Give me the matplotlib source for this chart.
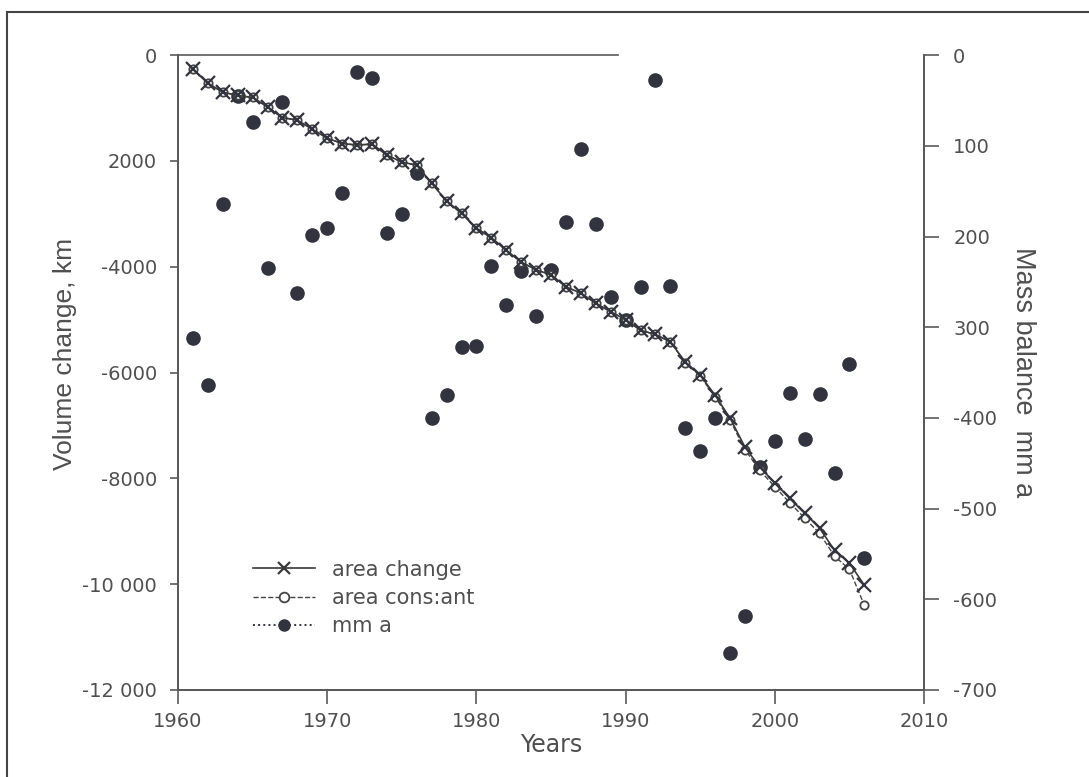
import matplotlib.pyplot as plt
from matplotlib.lines import Line2D
from matplotlib.patches import Rectangle

plt.rcParams['font.family'] = ['DejaVu Sans']

years = list(range(1961, 2007))

# cumulative volume change (left axis)
area_change = [-265, -530, -700, -760, -800, -980, -1180, -1230, -1400, -1570,
               -1670, -1700, -1680, -1890, -2020, -2080, -2420, -2760, -2990, -3270,
               -3450, -3690, -3910, -4060, -4150, -4380, -4500, -4690, -4850, -5000,
               -5200, -5280, -5420, -5800, -6050, -6430, -6860, -7410, -7790, -8090,
               -8380, -8660, -8940, -9360, -9600, -10020]
area_constant = [-265, -530, -700, -760, -800, -980, -1180, -1230, -1400, -1570,
                 -1670, -1700, -1680, -1890, -2020, -2080, -2420, -2760, -2990, -3270,
                 -3450, -3690, -3910, -4060, -4150, -4380, -4500, -4690, -4850, -5000,
                 -5200, -5280, -5420, -5810, -6070, -6460, -6900, -7460, -7850, -8160,
                 -8460, -8750, -9040, -9470, -9720, -10400]

# annual mass balance (right axis)
mm_a = [-312, -364, -164, -45, -74, -235, -52, -262, -198, -191,
        -152, -19, -25, -196, -175, -130, -400, -375, -322, -321,
        -232, -275, -238, -288, -237, -184, -104, -186, -267, -292,
        -256, -27, -254, -411, -437, -400, -659, -618, -454, -426,
        -372, -423, -374, -461, -341, -555]

left_ticks = [0, -2000, -4000, -6000, -8000, -10000, -12000]
left_labels = ["0", "2000", "-4000", "-6000", "-8000", "-10 000", "-12 000"]
right_ticks = [0, -100, -200, -300, -400, -500, -600, -700]
right_labels = ["0", "100", "200", "300", "-400", "-500", "-600", "-700"]
x_ticks = [1960, 1970, 1980, 1990, 2000, 2010]

ink = '#33333f'
axc = '#5a5a5a'
txt = '#4f4f4f'

fig = plt.figure(figsize=(10.89, 7.77), dpi=100)
ax = fig.add_axes([0.1635, 0.112, 0.685, 0.817])
ax2 = ax.twinx()

# mass balance dots
ax2.plot(years, mm_a, linestyle='none', marker='o', ms=9.5, color=ink, zorder=2)

ax.set_zorder(ax2.get_zorder() + 1)
ax.patch.set_visible(False)

ax.plot(years, area_constant, linestyle='--', lw=1, color='#444444',
        marker='o', ms=6, mfc='white', mec='#444444', mew=1.3)
ax.plot(years, area_change, linestyle='-', lw=1.2, color='#3a3a3a',
        marker='x', ms=10, mew=1.6, mec=ink)

ax.set_xlim(1960, 2010)
ax.set_ylim(-12000, 0)
ax2.set_ylim(-700, 0)

ax.set_xticks(x_ticks)
ax.set_yticks(left_ticks)
ax.set_yticklabels(left_labels)
ax2.set_yticks(right_ticks)
ax2.set_yticklabels(right_labels)

for a in (ax, ax2):
    a.tick_params(colors=axc, labelcolor=txt, labelsize=14, width=1.2)
    for s in a.spines.values():
        s.set_color(axc)
        s.set_linewidth(1.4)
ax.tick_params(axis='y', length=6, pad=9)
ax.tick_params(axis='x', length=10, pad=6)
ax2.tick_params(axis='y', length=11, pad=10)
ax2.spines['top'].set_visible(False)
ax.spines['top'].set_bounds(1960, 1989.5)
ax.spines['top'].set_linewidth(1.2)

ax.set_xlabel("Years", fontsize=17, color=txt, labelpad=1)
ax.set_ylabel("Volume change, km", fontsize=19, color=txt,
              family='Liberation Sans')
ax.yaxis.set_label_coords(-0.136, 0.53)
ax2.set_ylabel("Mass balance  mm a", fontsize=19.5, color=txt, rotation=270,
               family='Liberation Sans')
ax2.yaxis.set_label_coords(1.15, 0.5)

handles = [
    Line2D([], [], linestyle='-', lw=1.2, color='#3a3a3a', marker='x', ms=9, mew=1.6),
    Line2D([], [], linestyle='--', lw=1, color='#444444', marker='o', ms=7,
           mfc='white', mew=1.3),
    Line2D([], [], linestyle=':', lw=1.4, color=ink, marker='o', ms=8),
]
leg = ax.legend(handles, ["area change", "area cons:ant", "mm a"],
                loc='upper left', bbox_to_anchor=(0.075, 0.235), frameon=False,
                fontsize=15, handlelength=3.0, labelspacing=0.4)
for t in leg.get_texts():
    t.set_color(txt)

fig.patches.append(Rectangle((7 / 1089, -0.01), 1.02, 1 - 12 / 777 + 0.01,
                             transform=fig.transFigure, fill=False,
                             edgecolor='#444444', lw=1.5))

fig.savefig("out.png", dpi=100)
